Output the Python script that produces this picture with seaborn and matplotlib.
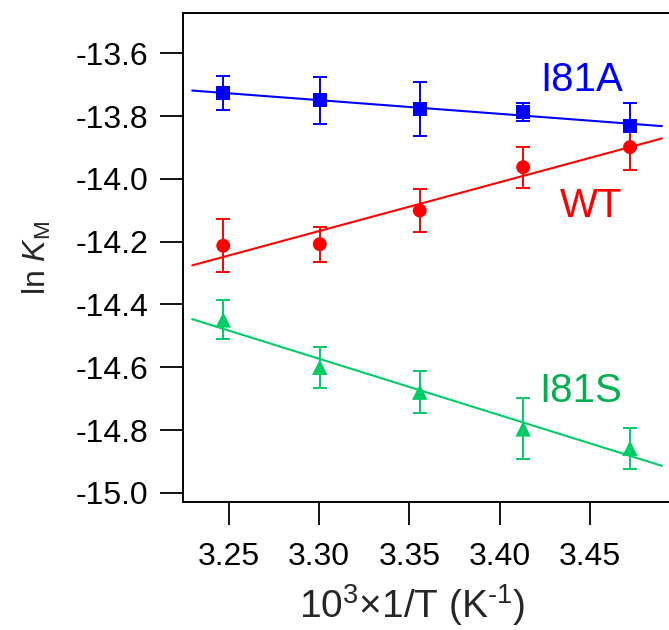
import numpy as np
import pandas as pd
import matplotlib
matplotlib.use("Agg")
import matplotlib.pyplot as plt
import seaborn as sns

# ---------------- data ----------------
inv_T = [3.2468, 3.3003, 3.3557, 3.4130, 3.4722]          # 10^3 x 1/T (K^-1)
i81a_lnkm = [-13.727, -13.750, -13.778, -13.787, -13.831]
i81a_err = [0.055, 0.075, 0.086, 0.029, 0.072]
wt_lnkm = [-14.213, -14.208, -14.101, -13.963, -13.899]
wt_err = [0.085, 0.056, 0.068, 0.065, 0.074]
i81s_lnkm = [-14.449, -14.600, -14.679, -14.796, -14.858]
i81s_err = [0.062, 0.065, 0.066, 0.097, 0.065]

series_names = ["I81A", "WT", "I81S"]
x_ticks = [3.25, 3.30, 3.35, 3.40, 3.45]
y_ticks = [-13.6, -13.8, -14.0, -14.2, -14.4, -14.6, -14.8, -15.0]
fit_x_range = [3.2296, 3.4899]

# ---------------- styling ----------------
sns.set_theme(style="ticks")
plt.rcParams["font.family"] = ["Liberation Sans", "DejaVu Sans"]
plt.rcParams["mathtext.fontset"] = "custom"
plt.rcParams["mathtext.rm"] = "Liberation Sans"
plt.rcParams["mathtext.it"] = "Liberation Sans:italic"
plt.rcParams["axes.unicode_minus"] = False

colors = {"I81A": "#0000FF", "WT": "#FF0000", "I81S": "#00CC66"}
text_colors = {"I81A": "#0000FF", "WT": "#FF0000", "I81S": "#00B050"}
markers = {"I81A": "s", "WT": "o", "I81S": "^"}
msizes = {"I81A": 100, "WT": 100, "I81S": 125}

values = {"I81A": i81a_lnkm, "WT": wt_lnkm, "I81S": i81s_lnkm}
errors = {"I81A": i81a_err, "WT": wt_err, "I81S": i81s_err}

df = pd.concat(
    [pd.DataFrame({"x": inv_T, "y": values[n], "err": errors[n], "series": n})
     for n in series_names],
    ignore_index=True,
)

fig = plt.figure(figsize=(6.69, 6.30), dpi=100)
ax = fig.add_axes([183 / 669, 1 - 502 / 630, (669 - 183) / 669, (502 - 13) / 630])

# fitted lines
fx = np.array(fit_x_range)
for n in series_names:
    sub = df[df.series == n]
    k, b = np.polyfit(sub.x, sub.y, 1)
    sns.lineplot(x=fx, y=k * fx + b, color=colors[n], linewidth=1.5, ax=ax, zorder=2)

# error bars
for n in series_names:
    sub = df[df.series == n]
    ax.errorbar(sub.x, sub.y, yerr=sub.err, fmt="none", ecolor=colors[n],
                elinewidth=1.4, capsize=4.7, capthick=1.4, zorder=3)

# markers
for n in series_names:
    sub = df[df.series == n]
    sns.scatterplot(data=sub, x="x", y="y", marker=markers[n], s=msizes[n],
                    color=colors[n], edgecolor="none", linewidth=0, ax=ax,
                    zorder=4, legend=False)

# series labels
label_pos = {"I81A": (3.4456, -13.685), "WT": (3.4505, -14.086), "I81S": (3.445, -14.676)}
for n in series_names:
    ax.text(*label_pos[n], n, color=text_colors[n], fontsize=29,
            ha="center", va="center")

ax.set_xlim(3.2245, 3.4938)
ax.set_ylim(-15.029, -13.472)
ax.set_xticks(x_ticks)
ax.set_xticklabels([f"{v:.2f}" for v in x_ticks])
ax.set_yticks(y_ticks)
ax.set_yticklabels([f"{v:.1f}" for v in y_ticks])

for side in ["left", "bottom", "top"]:
    ax.spines[side].set_linewidth(1.4)
    ax.spines[side].set_color("black")
ax.spines["right"].set_visible(False)

ax.tick_params(axis="both", direction="out", length=16.6, width=1.3,
               labelsize=23, colors="black")
ax.tick_params(axis="x", pad=12)
ax.tick_params(axis="y", pad=8.5)

ax.set_xlabel(r"10$^{3}$$\times$1/T (K$^{\text{-}1}$)", fontsize=28)
ax.xaxis.set_label_coords(0.471, -0.163)
ax.xaxis.label.set_va("top")
ax.set_ylabel(r"ln $K$$_{\mathrm{M}}$", fontsize=23, labelpad=16)

fig.savefig("out.png", dpi=100)
